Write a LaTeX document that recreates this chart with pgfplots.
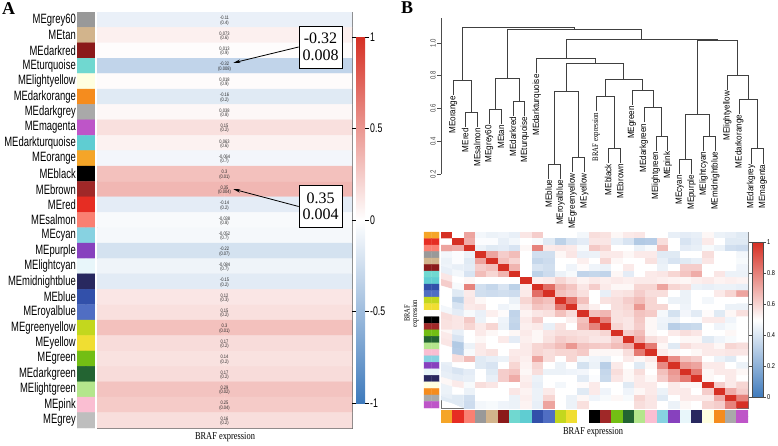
\documentclass[border=0pt]{standalone}
\usepackage{pgfplots}
\pgfplotsset{compat=1.18}
\usepackage{pgfplotstable}
\usetikzlibrary{arrows.meta,calc}
\usepackage{fontspec}
\setmainfont{Liberation Serif}
\newfontfamily\narrowsans[FakeStretch=0.7]{Liberation Sans}
\newfontfamily\cellsans[FakeStretch=0.8]{Liberation Sans}
\newfontfamily\leafsans[FakeStretch=0.9]{Liberation Sans}
\newfontfamily\narrowserif[FakeStretch=0.8]{Liberation Serif}

% module colours, indexed 0..27 (A order, then white for BRAF)
\pgfplotsset{
  colormap={mods}{
    rgb255=(153,153,153) rgb255=(210,180,140) rgb255=(139,26,26) rgb255=(112,216,208)
    rgb255=(255,255,224) rgb255=(245,140,30) rgb255=(169,169,169) rgb255=(190,85,200)
    rgb255=(95,205,210) rgb255=(245,165,40) rgb255=(0,0,0) rgb255=(160,40,40)
    rgb255=(230,45,35) rgb255=(250,128,114) rgb255=(135,210,225) rgb255=(135,65,190)
    rgb255=(232,246,250) rgb255=(40,40,95) rgb255=(50,80,170) rgb255=(80,110,195)
    rgb255=(195,215,30) rgb255=(240,222,50) rgb255=(115,190,20) rgb255=(35,100,50)
    rgb255=(180,230,140) rgb255=(250,190,210) rgb255=(190,190,190) rgb255=(255,255,255)},
  colormap={bwr}{rgb255=(62,122,188) rgb255=(255,255,255) rgb255=(214,48,36)},
  dl/.style={black!75, line width=0.6pt, mark=none},
  colorbar shift/.style={},
  % a strip two cells wide, values listed column by column
  vstrip/.style={matrix plot*, mesh/ordering=y varies, mesh/rows=27, mesh/cols=2, point meta=explicit},
}

% panel A: correlation of module eigengenes with BRAF expression
\pgfplotstableread{
row name r p
1 MEgrey60 -0.11 (0.4)
2 MEtan 0.073 (0.6)
3 MEdarkred 0.013 (0.9)
4 MEturquoise -0.32 (0.008)
5 MElightyellow 0.018 (0.9)
6 MEdarkorange -0.16 (0.2)
7 MEdarkgrey 0.038 (0.8)
8 MEmagenta 0.15 (0.2)
9 MEdarkturquoise 0.063 (0.6)
10 MEorange -0.064 (0.7)
11 MEblack 0.3 (0.01)
12 MEbrown 0.35 (0.004)
13 MEred -0.14 (0.2)
14 MEsalmon -0.038 (0.8)
15 MEcyan -0.052 (0.7)
16 MEpurple -0.22 (0.07)
17 MElightcyan -0.084 (0.7)
18 MEmidnightblue -0.15 (0.2)
19 MEblue 0.12 (0.3)
20 MEroyalblue 0.15 (0.2)
21 MEgreenyellow 0.3 (0.01)
22 MEyellow 0.17 (0.2)
23 MEgreen 0.14 (0.2)
24 MEdarkgreen 0.17 (0.2)
25 MElightgreen 0.29 (0.02)
26 MEpink 0.25 (0.04)
27 MEgrey 0.16 (0.2)
}\tabA

% dendrogram leaves: position, leaf end height, name
\pgfplotstableread{
k h name
1 0.683 MEorange
2 0.487 MEred
3 0.487 MEsalmon
4 0.505 MEgrey60
5 0.505 MEtan
6 0.556 MEdarkred
7 0.556 MEturquoise
8 0.815 MEdarkturquoise
9 0.171 MEblue
10 0.171 MEroyalblue
11 0.211 MEgreenyellow
12 0.211 MEyellow
14 0.268 MEblack
15 0.268 MEbrown
16 0.622 MEgreen
17 0.515 MEdarkgreen
18 0.343 MElightgreen
19 0.343 MEpink
20 0.201 MEcyan
21 0.201 MEpurple
22 0.343 MElightcyan
23 0.343 MEmidnightblue
24 0.714 MElightyellow
25 0.568 MEdarkorange
26 0.264 MEdarkgrey
27 0.264 MEmagenta
}\leaftab

\begin{document}
\begin{tikzpicture}
\useasboundingbox (0pt,0pt) rectangle (778pt,445pt);

\node[anchor=north west, inner sep=0pt, font=\bfseries\fontsize{18}{18}\selectfont] at (2pt,443pt) {A};
\node[anchor=north west, inner sep=0pt, font=\bfseries\fontsize{18}{18}\selectfont] at (401pt,443pt) {B};

% ---- A: colour swatches with module names
\begin{axis}[at={(77pt,17pt)}, anchor=south west, scale only axis,
  width=18pt, height=416pt,
  xmin=-0.5, xmax=1.5, ymin=0.5, ymax=27.5, y dir=reverse,
  axis line style={draw=none}, xtick=\empty,
  ytick={1,...,27}, yticklabels from table={\tabA}{name},
  yticklabel style={font=\narrowsans\fontsize{13.5}{14}\selectfont, inner sep=1pt},
  major tick length=0pt, colormap name=mods]
\addplot[vstrip, colormap access=direct]
  table[header=false, row sep=\\, x expr={floor(\coordindex/27)}, y expr={mod(\coordindex,27)+1}, meta index=0] {
0\\1\\2\\3\\4\\5\\6\\7\\8\\9\\10\\11\\12\\13\\14\\15\\16\\17\\18\\19\\20\\21\\22\\23\\24\\25\\26\\
0\\1\\2\\3\\4\\5\\6\\7\\8\\9\\10\\11\\12\\13\\14\\15\\16\\17\\18\\19\\20\\21\\22\\23\\24\\25\\26\\};
\end{axis}

% ---- A: heatmap
\begin{axis}[at={(97pt,17pt)}, anchor=south west, scale only axis,
  width=255pt, height=416pt,
  xmin=-0.5, xmax=1.5, ymin=0.5, ymax=27.5, y dir=reverse,
  xtick=\empty, ytick=\empty,
  axis line style={draw=black!55, line width=0.7pt},
  colormap name=bwr, point meta min=-1, point meta max=1,
  colorbar,
  colorbar style={at={($(parent axis.east)+(4pt,0)$)}, anchor=west,
    width=9pt, height=366pt,
    ytick={-1,-0.5,0,0.5,1}, yticklabels={-1,-0.5,0,0.5,1},
    yticklabel style={font=\narrowsans\fontsize{12.5}{13}\selectfont, inner sep=1pt},
    axis line style={draw=none}, tick align=outside, major tick length=4pt,
    tick style={black, line width=0.6pt}},
]
\addplot[vstrip]
  table[header=false, row sep=\\, x expr={floor(\coordindex/27)}, y expr={mod(\coordindex,27)+1}, meta index=0] {
-0.11\\0.073\\0.013\\-0.32\\0.018\\-0.16\\0.038\\0.15\\0.063\\-0.064\\0.3\\0.35\\-0.14\\-0.038\\
-0.052\\-0.22\\-0.084\\-0.15\\0.12\\0.15\\0.3\\0.17\\0.14\\0.17\\0.29\\0.25\\0.16\\
-0.11\\0.073\\0.013\\-0.32\\0.018\\-0.16\\0.038\\0.15\\0.063\\-0.064\\0.3\\0.35\\-0.14\\-0.038\\
-0.052\\-0.22\\-0.084\\-0.15\\0.12\\0.15\\0.3\\0.17\\0.14\\0.17\\0.29\\0.25\\0.16\\};
\addplot[draw=none, mark=none, point meta=explicit symbolic, nodes near coords,
  nodes near coords style={anchor=south, inner sep=0pt, yshift=-0.3pt,
    font=\cellsans\fontsize{5}{5}\selectfont, text=black!85}]
  table[x expr=0.5, y=row, meta=r] {\tabA};
\addplot[draw=none, mark=none, point meta=explicit symbolic, nodes near coords,
  nodes near coords style={anchor=north, inner sep=0pt, yshift=-0.6pt,
    font=\cellsans\fontsize{5}{5}\selectfont, text=black!85}]
  table[x expr=0.5, y=row, meta=p] {\tabA};
\coordinate (tipA) at (axis cs:0.57,3.8);
\coordinate (tipB) at (axis cs:0.57,12.0);
\end{axis}

\node[draw, line width=0.7pt, fill=white, align=center, inner sep=2pt,
  minimum width=43pt, minimum height=42pt, font=\fontsize{16}{16.5}\selectfont]
  (box1) at (320.5pt,398pt) {-0.32\\0.008};
\node[draw, line width=0.7pt, fill=white, align=center, inner sep=2pt,
  minimum width=43pt, minimum height=42pt, font=\fontsize{16}{16.5}\selectfont]
  (box2) at (320.5pt,238.5pt) {0.35\\0.004};
\draw[-{Stealth[length=7pt,width=3.5pt]}, line width=0.8pt] (box1.west) -- (tipA);
\draw[-{Stealth[length=7pt,width=3.5pt]}, line width=0.8pt] (box2.west) -- (tipB);
\node[font=\narrowserif\fontsize{10.5}{11}\selectfont] at (225pt,8pt) {BRAF expression};

% ---- B: dendrogram
\begin{axis}[at={(441.4pt,271pt)}, anchor=south west, scale only axis,
  width=333.5pt, height=155.6pt,
  xmin=0, xmax=28, ymin=0.2, ymax=1.15,
  axis x line=none, axis y line*=left,
  ytick={0.2,0.4,0.6,0.8,1.0}, yticklabels={0.2,0.4,0.6,0.8,1.0},
  tick align=outside, major tick length=4pt,
  yticklabel style={rotate=90, anchor=south, inner sep=1.5pt,
    font=\cellsans\fontsize{7.5}{8}\selectfont, text=black!75},
  axis line style={black!70, line width=0.6pt},
  tick style={black!70, line width=0.6pt},
  clip=false]
\addplot[dl] coordinates {(2,0.487)(2,0.577)(3,0.577)(3,0.487)};
\addplot[dl] coordinates {(1,0.683)(1,0.773)(2.5,0.773)(2.5,0.577)};
\addplot[dl] coordinates {(4,0.505)(4,0.595)(5,0.595)(5,0.505)};
\addplot[dl] coordinates {(6,0.556)(6,0.646)(7,0.646)(7,0.556)};
\addplot[dl] coordinates {(4.5,0.595)(4.5,0.783)(6.5,0.783)(6.5,0.646)};
\addplot[dl] coordinates {(9,0.171)(9,0.261)(10,0.261)(10,0.171)};
\addplot[dl] coordinates {(11,0.211)(11,0.301)(12,0.301)(12,0.211)};
\addplot[dl] coordinates {(9.5,0.261)(9.5,0.702)(11.5,0.702)(11.5,0.301)};
\addplot[dl] coordinates {(14,0.268)(14,0.358)(15,0.358)(15,0.268)};
\addplot[dl] coordinates {(13,0.582)(13,0.672)(14.5,0.672)(14.5,0.358)};
\addplot[dl] coordinates {(18,0.343)(18,0.433)(19,0.433)(19,0.343)};
\addplot[dl] coordinates {(17,0.515)(17,0.605)(18.5,0.605)(18.5,0.433)};
\addplot[dl] coordinates {(16,0.622)(16,0.712)(17.75,0.712)(17.75,0.605)};
\addplot[dl] coordinates {(13.75,0.672)(13.75,0.777)(16.875,0.777)(16.875,0.712)};
\addplot[dl] coordinates {(10.5,0.702)(10.5,0.874)(15.3125,0.874)(15.3125,0.777)};
\addplot[dl] coordinates {(8,0.815)(8,0.905)(12.906,0.905)(12.906,0.874)};
\addplot[dl] coordinates {(20,0.201)(20,0.291)(21,0.291)(21,0.201)};
\addplot[dl] coordinates {(22,0.343)(22,0.433)(23,0.433)(23,0.343)};
\addplot[dl] coordinates {(20.5,0.291)(20.5,0.565)(22.5,0.565)(22.5,0.433)};
\addplot[dl] coordinates {(26,0.264)(26,0.354)(27,0.354)(27,0.264)};
\addplot[dl] coordinates {(25,0.568)(25,0.658)(26.5,0.658)(26.5,0.354)};
\addplot[dl] coordinates {(24,0.714)(24,0.804)(25.75,0.804)(25.75,0.658)};
\addplot[dl] coordinates {(21.5,0.565)(21.5,1.016)(24.875,1.016)(24.875,0.804)};
\addplot[dl] coordinates {(10.453,0.905)(10.453,1.022)(23.1875,1.022)(23.1875,1.016)};
\addplot[dl] coordinates {(5.5,0.783)(5.5,1.081)(16.82,1.081)(16.82,1.022)};
\addplot[dl] coordinates {(1.75,0.773)(1.75,1.097)(11.16,1.097)(11.16,1.081)};
\addplot[draw=none, mark=none, point meta=explicit symbolic, nodes near coords,
  nodes near coords style={rotate=90, anchor=east, inner sep=1pt,
    font=\leafsans\fontsize{9}{9}\selectfont}]
  table[x=k, y=h, meta=name] {\leaftab};
\node[rotate=90, anchor=east, inner sep=1pt, font=\narrowserif\fontsize{8.5}{9}\selectfont]
  at (axis cs:13,0.582) {BRAF expression};
\end{axis}

% ---- B: row colour strip
\begin{axis}[at={(424pt,37pt)}, anchor=south west, scale only axis,
  width=15pt, height=176pt,
  xmin=-0.5, xmax=1.5, ymin=0.5, ymax=27.5, y dir=reverse,
  hide axis, colormap name=mods, clip=false]
\addplot[vstrip, colormap access=direct]
  table[header=false, row sep=\\, x expr={floor(\coordindex/27)}, y expr={mod(\coordindex,27)+1}, meta index=0] {
9\\12\\13\\0\\1\\2\\3\\8\\18\\19\\20\\21\\27\\10\\11\\22\\23\\24\\25\\14\\15\\16\\17\\4\\5\\6\\7\\
9\\12\\13\\0\\1\\2\\3\\8\\18\\19\\20\\21\\27\\10\\11\\22\\23\\24\\25\\14\\15\\16\\17\\4\\5\\6\\7\\};
\node[rotate=90, anchor=south, align=center, inner sep=0pt,
  font=\narrowserif\fontsize{8}{7.5}\selectfont] at (axis cs:-1.17,13) {BRAF\\expression};
\end{axis}

% ---- B: eigengene adjacency heatmap
\begin{axis}[at={(441pt,37pt)}, anchor=south west, scale only axis,
  width=307pt, height=176pt,
  xmin=0.5, xmax=27.5, ymin=0.5, ymax=27.5, y dir=reverse,
  xtick=\empty, ytick=\empty,
  axis line style={draw=black!55, line width=0.7pt},
  colormap name=bwr, point meta min=0, point meta max=1,
  colorbar,
  colorbar style={at={($(parent axis.east)+(4pt,0)$)}, anchor=west,
    width=11pt, height=155pt,
    ytick={0,0.2,0.4,0.6,0.8,1}, yticklabels={0,0.2,0.4,0.6,0.8,1},
    yticklabel style={font=\cellsans\fontsize{7}{7}\selectfont, inner sep=1pt},
    axis line style={draw=black!70, line width=0.5pt}, tick align=outside,
    major tick length=3pt, tick style={black!70, line width=0.5pt}},
]
\addplot[matrix plot*, mesh/cols=27, point meta=explicit]
  table[header=false, row sep=\\, x expr={mod(\coordindex,27)+1}, y expr={floor(\coordindex/27)+1}, meta index=0] {
1.00\\0.50\\0.72\\0.47\\0.45\\0.46\\0.44\\0.56\\0.62\\0.50\\0.50\\0.50\\0.47\\0.58\\0.57\\0.52\\0.55\\0.56\\0.50\\0.50\\0.44\\0.43\\0.44\\0.52\\0.45\\0.44\\0.42\\
0.50\\1.00\\0.70\\0.49\\0.49\\0.44\\0.47\\0.50\\0.48\\0.42\\0.33\\0.40\\0.43\\0.56\\0.56\\0.44\\0.40\\0.30\\0.31\\0.58\\0.50\\0.40\\0.43\\0.55\\0.50\\0.42\\0.42\\
0.72\\0.70\\1.00\\0.45\\0.42\\0.43\\0.40\\0.52\\0.80\\0.55\\0.56\\0.55\\0.48\\0.63\\0.60\\0.50\\0.50\\0.45\\0.48\\0.66\\0.50\\0.43\\0.44\\0.48\\0.45\\0.38\\0.37\\
0.47\\0.49\\0.45\\1.00\\0.72\\0.62\\0.66\\0.50\\0.38\\0.38\\0.52\\0.56\\0.445\\0.45\\0.55\\0.55\\0.52\\0.55\\0.55\\0.42\\0.42\\0.50\\0.50\\0.58\\0.50\\0.50\\0.47\\
0.45\\0.49\\0.42\\0.72\\1.00\\0.65\\0.60\\0.50\\0.35\\0.37\\0.50\\0.50\\0.54\\0.50\\0.60\\0.52\\0.50\\0.50\\0.57\\0.44\\0.40\\0.42\\0.44\\0.56\\0.50\\0.50\\0.48\\
0.46\\0.44\\0.43\\0.62\\0.65\\1.00\\0.68\\0.50\\0.40\\0.38\\0.50\\0.46\\0.51\\0.46\\0.45\\0.50\\0.55\\0.50\\0.50\\0.45\\0.50\\0.62\\0.62\\0.50\\0.50\\0.50\\0.46\\
0.44\\0.47\\0.40\\0.66\\0.60\\0.68\\1.00\\0.50\\0.33\\0.37\\0.45\\0.48\\0.34\\0.35\\0.34\\0.52\\0.43\\0.50\\0.55\\0.56\\0.60\\0.64\\0.70\\0.50\\0.56\\0.45\\0.45\\
0.56\\0.50\\0.52\\0.50\\0.50\\0.50\\0.50\\1.00\\0.54\\0.55\\0.60\\0.56\\0.53\\0.55\\0.54\\0.55\\0.54\\0.55\\0.55\\0.54\\0.53\\0.52\\0.54\\0.55\\0.53\\0.54\\0.53\\
0.62\\0.48\\0.80\\0.38\\0.35\\0.40\\0.33\\0.54\\1.00\\0.85\\0.68\\0.64\\0.56\\0.62\\0.55\\0.52\\0.52\\0.60\\0.60\\0.72\\0.60\\0.58\\0.45\\0.44\\0.45\\0.45\\0.44\\
0.50\\0.42\\0.55\\0.38\\0.37\\0.38\\0.37\\0.55\\0.85\\1.00\\0.65\\0.62\\0.575\\0.50\\0.44\\0.56\\0.57\\0.62\\0.58\\0.58\\0.50\\0.45\\0.50\\0.50\\0.55\\0.60\\0.72\\
0.50\\0.33\\0.56\\0.52\\0.50\\0.50\\0.45\\0.60\\0.68\\0.65\\1.00\\0.83\\0.65\\0.50\\0.57\\0.58\\0.62\\0.66\\0.60\\0.50\\0.45\\0.45\\0.50\\0.47\\0.50\\0.50\\0.50\\
0.50\\0.40\\0.55\\0.56\\0.50\\0.46\\0.48\\0.56\\0.64\\0.62\\0.83\\1.00\\0.585\\0.54\\0.50\\0.58\\0.60\\0.75\\0.60\\0.60\\0.50\\0.46\\0.50\\0.50\\0.50\\0.45\\0.45\\
0.47\\0.43\\0.48\\0.445\\0.54\\0.51\\0.34\\0.53\\0.56\\0.575\\0.65\\0.585\\1.00\\0.65\\0.675\\0.57\\0.585\\0.645\\0.625\\0.474\\0.39\\0.468\\0.425\\0.51\\0.42\\0.52\\0.575\\
0.58\\0.56\\0.63\\0.45\\0.50\\0.46\\0.35\\0.55\\0.62\\0.50\\0.50\\0.54\\0.65\\1.00\\0.80\\0.57\\0.56\\0.63\\0.52\\0.46\\0.45\\0.50\\0.49\\0.55\\0.55\\0.46\\0.50\\
0.57\\0.56\\0.60\\0.55\\0.60\\0.45\\0.34\\0.54\\0.55\\0.44\\0.57\\0.50\\0.675\\0.80\\1.00\\0.60\\0.56\\0.62\\0.52\\0.45\\0.32\\0.35\\0.36\\0.50\\0.46\\0.48\\0.50\\
0.52\\0.44\\0.50\\0.55\\0.52\\0.50\\0.52\\0.55\\0.52\\0.56\\0.58\\0.58\\0.57\\0.57\\0.60\\1.00\\0.62\\0.66\\0.52\\0.50\\0.55\\0.58\\0.56\\0.50\\0.50\\0.52\\0.50\\
0.55\\0.40\\0.50\\0.52\\0.50\\0.55\\0.43\\0.54\\0.52\\0.57\\0.62\\0.60\\0.585\\0.56\\0.56\\0.62\\1.00\\0.70\\0.58\\0.55\\0.50\\0.52\\0.52\\0.42\\0.46\\0.48\\0.50\\
0.56\\0.30\\0.45\\0.55\\0.50\\0.50\\0.50\\0.55\\0.60\\0.62\\0.66\\0.75\\0.645\\0.63\\0.62\\0.66\\0.70\\1.00\\0.82\\0.52\\0.42\\0.58\\0.55\\0.55\\0.52\\0.60\\0.58\\
0.50\\0.31\\0.48\\0.55\\0.57\\0.50\\0.55\\0.55\\0.60\\0.58\\0.60\\0.60\\0.625\\0.52\\0.52\\0.52\\0.58\\0.82\\1.00\\0.55\\0.52\\0.50\\0.52\\0.55\\0.55\\0.56\\0.56\\
0.50\\0.58\\0.66\\0.42\\0.44\\0.45\\0.56\\0.54\\0.72\\0.58\\0.50\\0.60\\0.474\\0.46\\0.45\\0.50\\0.55\\0.52\\0.55\\1.00\\0.78\\0.65\\0.62\\0.50\\0.45\\0.42\\0.50\\
0.44\\0.50\\0.50\\0.42\\0.40\\0.50\\0.60\\0.53\\0.60\\0.50\\0.45\\0.50\\0.39\\0.45\\0.32\\0.55\\0.50\\0.42\\0.52\\0.78\\1.00\\0.75\\0.72\\0.55\\0.55\\0.50\\0.45\\
0.43\\0.40\\0.43\\0.50\\0.42\\0.62\\0.64\\0.52\\0.58\\0.45\\0.45\\0.46\\0.468\\0.50\\0.35\\0.58\\0.52\\0.58\\0.50\\0.65\\0.75\\1.00\\0.82\\0.52\\0.55\\0.55\\0.52\\
0.44\\0.43\\0.44\\0.50\\0.44\\0.62\\0.70\\0.54\\0.45\\0.50\\0.50\\0.50\\0.425\\0.49\\0.36\\0.56\\0.52\\0.55\\0.52\\0.62\\0.72\\0.82\\1.00\\0.52\\0.50\\0.55\\0.50\\
0.52\\0.55\\0.48\\0.58\\0.56\\0.50\\0.50\\0.55\\0.44\\0.50\\0.47\\0.50\\0.51\\0.55\\0.50\\0.50\\0.42\\0.55\\0.55\\0.50\\0.55\\0.52\\0.52\\1.00\\0.62\\0.55\\0.60\\
0.45\\0.50\\0.45\\0.50\\0.50\\0.50\\0.56\\0.53\\0.45\\0.55\\0.50\\0.50\\0.42\\0.55\\0.46\\0.50\\0.46\\0.52\\0.55\\0.45\\0.55\\0.55\\0.50\\0.62\\1.00\\0.70\\0.62\\
0.44\\0.42\\0.38\\0.50\\0.50\\0.50\\0.45\\0.54\\0.45\\0.60\\0.50\\0.45\\0.52\\0.46\\0.48\\0.52\\0.48\\0.60\\0.56\\0.42\\0.50\\0.55\\0.55\\0.55\\0.70\\1.00\\0.80\\
0.42\\0.42\\0.37\\0.47\\0.48\\0.46\\0.45\\0.53\\0.44\\0.72\\0.50\\0.45\\0.575\\0.50\\0.50\\0.50\\0.50\\0.58\\0.56\\0.50\\0.45\\0.52\\0.50\\0.60\\0.62\\0.80\\1.00\\};
\end{axis}

% ---- B: column colour strip
\begin{axis}[at={(441pt,23pt)}, anchor=south west, scale only axis,
  width=307pt, height=12pt,
  xmin=0.5, xmax=27.5, ymin=-0.5, ymax=1.5,
  hide axis, colormap name=mods]
\addplot[matrix plot*, mesh/cols=27, point meta=explicit, colormap access=direct]
  table[header=false, row sep=\\, x expr={mod(\coordindex,27)+1}, y expr={floor(\coordindex/27)}, meta index=0] {
9\\12\\13\\0\\1\\2\\3\\8\\18\\19\\20\\21\\27\\10\\11\\22\\23\\24\\25\\14\\15\\16\\17\\4\\5\\6\\7\\
9\\12\\13\\0\\1\\2\\3\\8\\18\\19\\20\\21\\27\\10\\11\\22\\23\\24\\25\\14\\15\\16\\17\\4\\5\\6\\7\\};
\end{axis}
\node[font=\narrowserif\fontsize{10.5}{11}\selectfont] at (593pt,13pt) {BRAF expression};

\end{tikzpicture}
\end{document}
